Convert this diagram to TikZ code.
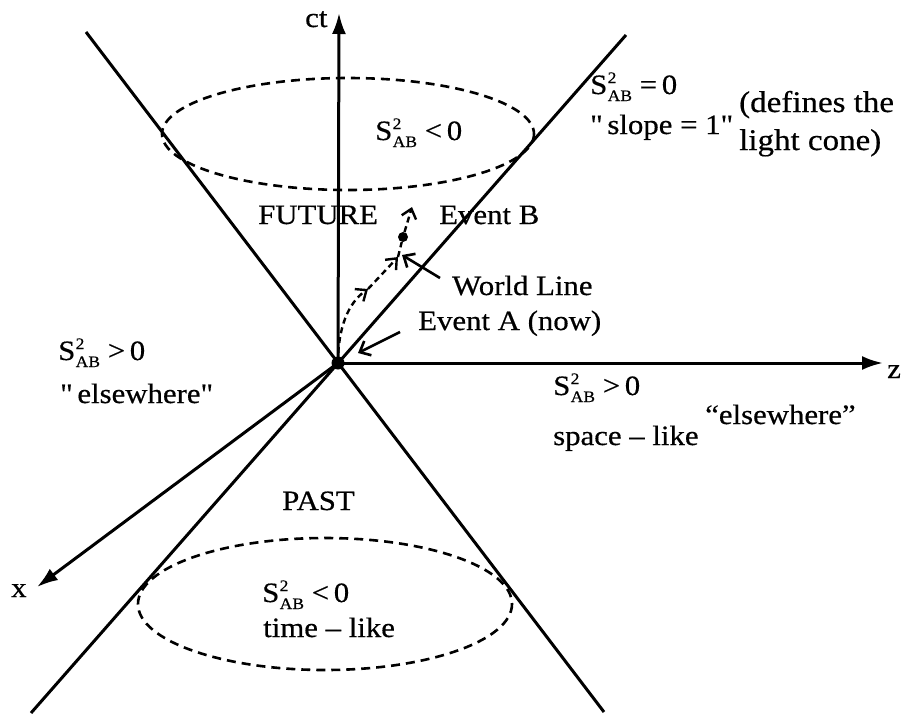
\documentclass[tikz,border=0pt]{standalone}
\usepackage{fontspec}
\setmainfont[FakeStretch=1.1,FakeBold=0.5,Ligatures=TeXOff]{Liberation Serif}
\usetikzlibrary{arrows.meta}
\newcommand\Sab{S\kern0.3pt{\fontsize{16}{16}\selectfont\rlap{\raisebox{11pt}{2}}\raisebox{-7pt}{AB}}}
\begin{document}
\begin{tikzpicture}[x=1pt,y=-1pt,
  cone/.style={line width=3pt},
  axis/.style={line width=3pt,-{Latex[length=21pt,width=14pt]}},
  dashell/.style={line width=2.6pt,dash pattern=on 9pt off 6pt},
  wl/.style={line width=2.4pt,dash pattern=on 6pt off 4pt},
  barb/.style={-{Straight Barb[length=9pt,width=15pt]}},
  pointer/.style={line width=2.6pt,-{Straight Barb[length=9pt,width=16pt]}},
  lbl/.style={anchor=base west,inner sep=0pt,font=\fontsize{28}{30}\selectfont},
  biglbl/.style={lbl,font=\fontsize{30}{32}\selectfont},
  dotnode/.style={circle,fill,inner sep=0pt}]
\useasboundingbox (0,0) rectangle (902,713);
% cone
\coordinate (L1a) at (86,32);
\coordinate (L1b) at (604,712);
\coordinate (L2a) at (626,35);
\coordinate (L2b) at (31,713);
\draw[cone] (L1a) -- (L1b);
\draw[cone] (L2a) -- (L2b);
% event A
\node[dotnode,minimum size=13pt] (A) at (338,363) {};
% axes
\coordinate (ctend) at (339,13);
\coordinate (zend) at (883,363);
\coordinate (xend) at (37,587);
\draw[axis] (A.center) -- (ctend);
\draw[axis] (A.center) -- (zend);
\draw[axis] (A.center) -- (xend);
\node[lbl] (ct) at (305,27) {ct};
\node[lbl] (z) at (887,378) {z};
\node[lbl] (x) at (11,597) {x};
% ellipses
\draw[dashell] (348,134) ellipse [x radius=186, y radius=56];
\draw[dashell] (325,604) ellipse [x radius=187, y radius=66];
% world line
\node[dotnode,minimum size=10pt] (B) at (403,237) {};
\coordinate (w1) at (368,289);
\coordinate (w2) at (398,257);
\coordinate (w3) at (412,207);
\draw[wl,barb] (A.center) .. controls (338,328) and (348,303) .. (w1);
\draw[wl,barb] (w1) -- (w2);
\draw[wl] (w2) -- (B);
\draw[wl,barb] (B) -- (w3);
% labels
\node[lbl] (sfut) at (375,140) {\Sab\ <\,0};
\node[lbl] (future) at (258,224) {FUTURE};
\node[lbl] (evB) at (439,224) {Event B};
\node[lbl] (wline) at (452,295) {World Line};
\node[lbl] (evA) at (418,330) {Event A (now)};
\coordinate (wlstart) at (440,278);
\coordinate (wltip) at (402,255);
\draw[pointer] (wlstart) -- (wltip);
\coordinate (eastart) at (400,332);
\coordinate (eatip) at (358,353);
\draw[pointer] (eastart) -- (eatip);
\node[lbl] (sleft) at (58,360) {\Sab\ >\,0};
\node[lbl] (elsel) at (60,403) {"\,elsewhere"};
\node[lbl] (past) at (282,510) {PAST};
\node[lbl] (spast) at (262,602) {\Sab\ <\,0};
\node[lbl] (tlike) at (263,637) {time – like};
\node[lbl] (sright) at (553,395) {\Sab\ >\,0};
\node[lbl] (slike) at (553,445) {space – like};
\node[lbl] (elser) at (705,424) {“elsewhere”};
\node[lbl] (szero) at (590,94) {\Sab\ =\,0};
\node[lbl] (slope) at (590,134) {"\,slope = 1"};
\node[biglbl] (defines) at (739,112) {(defines the};
\node[biglbl] (lcone) at (739,150) {light cone)};
\end{tikzpicture}
\end{document}
